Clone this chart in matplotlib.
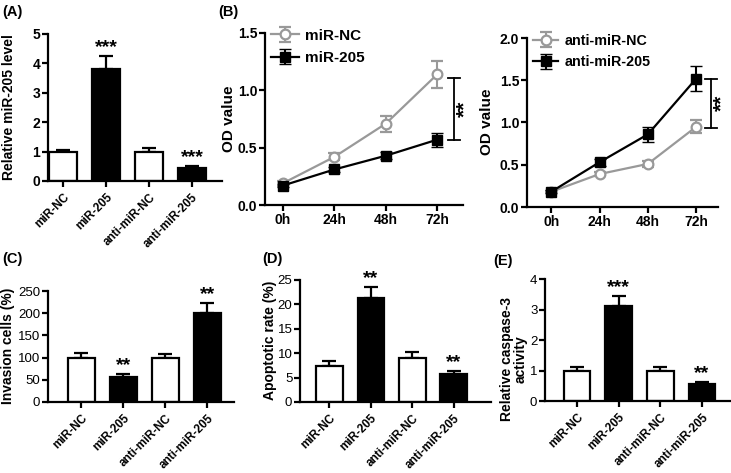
import numpy as np
import matplotlib
matplotlib.use('Agg')
import matplotlib.pyplot as plt

plt.rcParams['font.family'] = ['Liberation Sans', 'DejaVu Sans']

# Bar chart groups
groups = ['miR-NC', 'miR-205', 'anti-miR-NC', 'anti-miR-205']
fills = ['white', 'black', 'white', 'black']

mir_level = [0.97, 3.8, 1.0, 0.43]
mir_level_err = [0.1, 0.45, 0.13, 0.07]
mir_level_sig = ['', '***', '', '***']

invasion = [100, 57, 100, 200]
invasion_err = [10, 6, 9, 22]
invasion_sig = ['', '**', '', '**']

apoptosis = [7.4, 21.3, 9.1, 5.7]
apoptosis_err = [1.0, 2.3, 1.1, 0.7]
apoptosis_sig = ['', '**', '', '**']

caspase = [1.0, 3.1, 1.0, 0.56]
caspase_err = [0.1, 0.33, 0.1, 0.07]
caspase_sig = ['', '***', '', '**']

# Growth curves
hours = ['0h', '24h', '48h', '72h']
od_nc = [0.19, 0.42, 0.71, 1.14]
od_nc_err = [0.02, 0.03, 0.07, 0.12]
od_205 = [0.17, 0.31, 0.43, 0.57]
od_205_err = [0.01, 0.02, 0.03, 0.06]
od_anti_nc = [0.18, 0.39, 0.51, 0.95]
od_anti_nc_err = [0.01, 0.02, 0.04, 0.08]
od_anti_205 = [0.18, 0.53, 0.86, 1.52]
od_anti_205_err = [0.02, 0.04, 0.09, 0.15]

W, H = 731, 473
fig = plt.figure(figsize=(W / 100, H / 100), dpi=100)


def box(l, t, r, b):
    return fig.add_axes([l / W, 1 - b / H, (r - l) / W, (b - t) / H])


def place_label(ax, px, py):
    # px = right edge of the rotated y label, py = its centre (figure pixels)
    inv = ax.transAxes.inverted()
    x, y = inv.transform(fig.transFigure.transform((px / W, 1 - py / H)))
    ax.yaxis.set_label_coords(x, y)


def style(ax, bold_ticks=True, size=10):
    for s in ['top', 'right']:
        ax.spines[s].set_visible(False)
    for s in ['left', 'bottom']:
        ax.spines[s].set_linewidth(1.6)
    ax.tick_params(width=1.6, length=4, labelsize=size, pad=1.5)
    if bold_ticks:
        for lab in ax.get_yticklabels():
            lab.set_fontweight('bold')


def bars(ax, vals, errs, sig, ymax, yticks, ylabel, xlim, lab_xy, bold_ticks=True):
    x = np.arange(len(groups))
    ax.bar(x, vals, width=0.64, color=fills, edgecolor='black', linewidth=1.6, zorder=2)
    ax.errorbar(x, vals, yerr=[np.zeros(len(vals)), errs], fmt='none', ecolor='black',
                elinewidth=1.6, capsize=5, capthick=1.6, zorder=1)
    for xi, v, e, s in zip(x, vals, errs, sig):
        if s:
            ax.text(xi, v + e, s, ha='center', va='bottom', fontsize=14,
                    fontweight='bold')
    ax.set_ylim(0, ymax)
    ax.set_yticks(yticks)
    ax.set_xlim(*xlim)
    ax.set_xticks(x)
    style(ax, bold_ticks, 10 if bold_ticks else 9.5)
    ax.tick_params(axis='x', pad=3.5)
    ax.set_xticklabels(groups, rotation=45, ha='right', rotation_mode='anchor',
                       fontweight='bold', fontsize=8.5)
    ax.set_ylabel(ylabel, fontsize=10, fontweight='bold', linespacing=1.0)
    place_label(ax, *lab_xy)


def curves(ax, s1, e1, s2, e2, labels, ymax, yticks, xlim, bx, blo, bhi, lab_xy, leg_fs):
    x = np.arange(len(hours))
    ax.errorbar(x, s1, yerr=e1, color='#999999', marker='o', ms=7, mfc='white',
                mec='#999999', mew=1.6, lw=1.6, capsize=4, elinewidth=1.5, label=labels[0])
    ax.errorbar(x, s2, yerr=e2, color='black', marker='s', ms=7, lw=1.6, capsize=4,
                elinewidth=1.5, label=labels[1])
    ax.set_ylim(0, ymax)
    ax.set_yticks(yticks)
    ax.set_yticklabels([f'{t:.1f}' for t in yticks])
    ax.set_xlim(*xlim)
    ax.set_xticks(x)
    style(ax)
    ax.set_xticklabels(hours, fontweight='bold', fontsize=10)
    ax.set_ylabel('OD value', fontsize=11, fontweight='bold')
    place_label(ax, *lab_xy)
    cw = 0.12
    ax.plot([bx, bx], [blo, bhi], color='black', lw=1.3, clip_on=False)
    ax.plot([bx - cw, bx + cw], [blo, blo], color='black', lw=1.3, clip_on=False)
    ax.plot([bx - cw, bx + cw], [bhi, bhi], color='black', lw=1.3, clip_on=False)
    ax.text(bx + 0.02, (blo + bhi) / 2, '**', rotation=90, ha='left', va='center',
            fontsize=15, fontweight='bold', clip_on=False)
    leg = ax.legend(loc='upper left', frameon=False, fontsize=leg_fs, handlelength=1.8,
                    handletextpad=0.4, borderaxespad=0.0, bbox_to_anchor=(0.0, 1.06),
                    labelspacing=0.55)
    for t in leg.get_texts():
        t.set_fontweight('bold')


axA = box(48, 34, 222, 181)
bars(axA, mir_level, mir_level_err, mir_level_sig, 5, range(0, 6),
     'Relative miR-205 level', (-0.35, 3.7), (16, 107))

axB1 = box(265, 33, 463, 205)
curves(axB1, od_nc, od_nc_err, od_205, od_205_err, ['miR-NC', 'miR-205'],
       1.5, [0.0, 0.5, 1.0, 1.5], (-0.35, 3.5), 3.33, 0.57, 1.11, (236, 119), 11)

axB2 = box(527, 38, 718, 207)
curves(axB2, od_anti_nc, od_anti_nc_err, od_anti_205, od_anti_205_err,
       ['anti-miR-NC', 'anti-miR-205'], 2.0, [0.0, 0.5, 1.0, 1.5, 2.0],
       (-0.5, 3.45), 3.31, 0.94, 1.52, (494, 122), 10.3)

axC = box(48, 291, 234, 402)
bars(axC, invasion, invasion_err, invasion_sig, 250, range(0, 251, 50),
     'Invasion cells (%)', (-0.79, 3.64), (15, 346), bold_ticks=False)

axD = box(300, 280, 491, 402)
bars(axD, apoptosis, apoptosis_err, apoptosis_sig, 25, range(0, 26, 5),
     'Apoptotic rate (%)', (-0.71, 3.9), (277, 340), bold_ticks=False)

axE = box(545, 279, 730, 401)
bars(axE, caspase, caspase_err, caspase_sig, 4, range(0, 5),
     'Relative caspase-3\nactivity', (-0.77, 3.67), (528, 359), bold_ticks=False)

for lab, px, py in [('(A)', 2, 12), ('(B)', 218, 12), ('(C)', 2, 259),
                    ('(D)', 262, 259), ('(E)', 493, 261)]:
    fig.text(px / W, 1 - py / H, lab, fontsize=10.5, fontweight='bold', va='center')

fig.savefig('out.png', dpi=100)
